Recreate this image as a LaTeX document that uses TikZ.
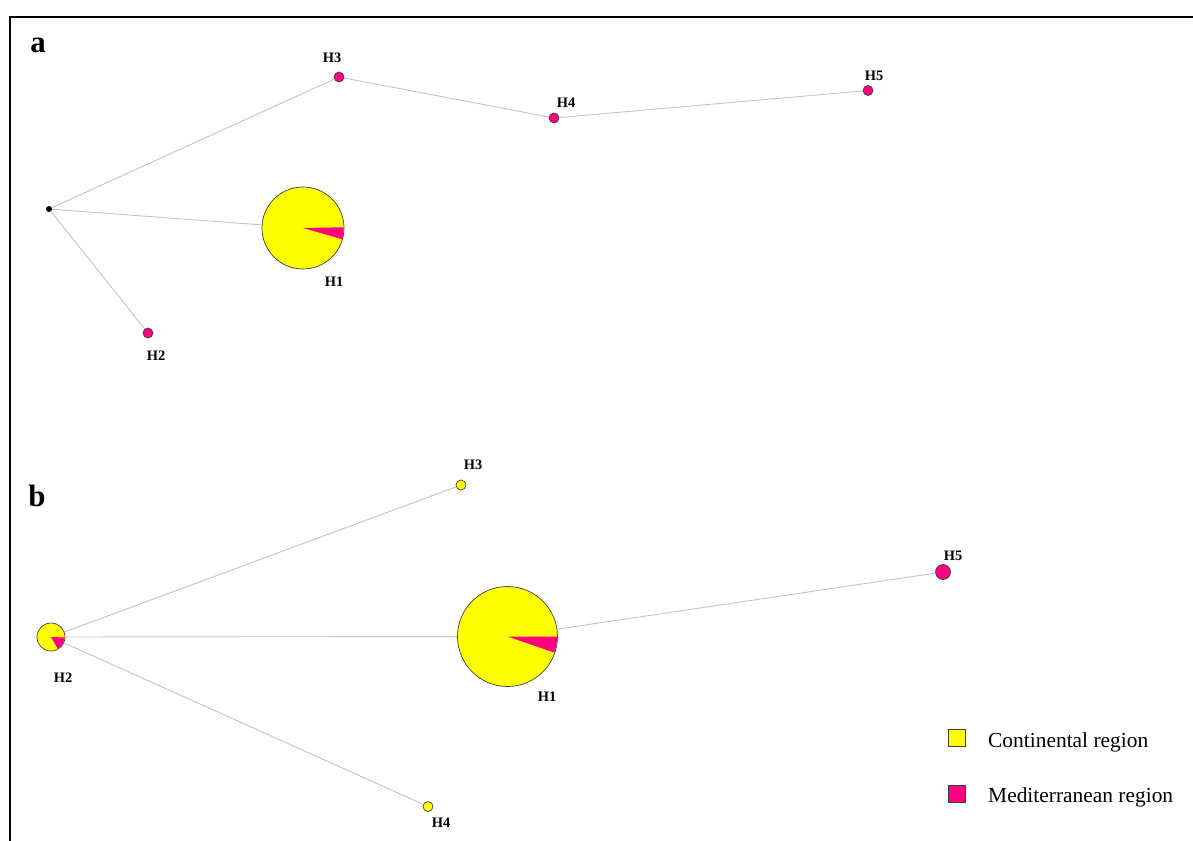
\documentclass[tikz,border=0pt]{standalone}
\usepackage{fontspec}
\setmainfont{Liberation Serif}
\definecolor{conti}{RGB}{255,255,0}
\definecolor{medi}{RGB}{255,0,128}
\definecolor{link}{RGB}{195,195,195}
\begin{document}
\begin{tikzpicture}[x=1bp, y=-1bp,
    hap/.style={circle, draw=black!75, line width=0.7bp, inner sep=0pt, minimum size=#1},
    hapc/.style={hap=#1, fill=conti},
    hapm/.style={hap=#1, fill=medi},
    lbl/.style={font=\fontsize{14.5}{16}\bfseries\selectfont, inner sep=0pt},
    panel/.style={font=\fontsize{31}{33}\bfseries\selectfont, inner sep=0pt, anchor=base},
    key/.style={draw=black!75, line width=0.7bp, inner sep=0pt, minimum size=17bp},
    keytxt/.style={font=\fontsize{21.5}{24}\selectfont, inner sep=0pt, anchor=base west},
    edge/.style={draw=link, line width=0.9bp}]
  \useasboundingbox (0, 0) rectangle (1193, 841);
  \draw[line width=2.5bp] (1193, 17) -- (10, 17) -- (10, 841);
  % panel a
  \node[panel] (pa) at (38, 52) {a};
  \node[circle, fill=black, inner sep=0pt, minimum size=6bp] (mv) at (49, 209) {};
  \node[hapc=82bp] (a1) at (303, 228) {};
  \fill[medi] (a1.center) -- ++(-1:40.6) arc[start angle=-1, end angle=16, radius=40.6] -- cycle;
  \node[hapm=10bp] (a2) at (148, 333) {};
  \node[hapm=10bp] (a3) at (339, 77) {};
  \node[hapm=10bp] (a4) at (554, 118) {};
  \node[hapm=10bp] (a5) at (868, 90.5) {};
  \draw (334, 282) node[lbl] {H1}
        (156, 356) node[lbl] {H2}
        (332, 58) node[lbl] {H3}
        (566, 103) node[lbl] {H4}
        (874, 76) node[lbl] {H5};
  \draw[edge] (mv) -- (a3) -- (a4) -- (a5)
              (mv) -- (a1)
              (mv) -- (a2);
  % panel b
  \node[panel] (pb) at (37, 506) {b};
  \node[hapc=100bp] (b1) at (507.5, 636.5) {};
  \fill[medi] (b1.center) -- ++(0:49.6) arc[start angle=0, end angle=19, radius=49.6] -- cycle;
  \node[hapc=28bp] (b2) at (51, 637) {};
  \fill[medi] (b2.center) -- ++(2:13.6) arc[start angle=2, end angle=60, radius=13.6] -- cycle;
  \node[hapc=10bp] (b3) at (461, 485) {};
  \node[hapc=10bp] (b4) at (428, 806.5) {};
  \node[hapm=15bp] (b5) at (943, 572) {};
  \draw (547, 697) node[lbl] {H1}
        (63, 678) node[lbl] {H2}
        (473, 465) node[lbl] {H3}
        (441, 823) node[lbl] {H4}
        (953, 556) node[lbl] {H5};
  \draw[edge] (b2) -- (b3)
              (b2) -- (b1)
              (b2) -- (b4)
              (b1) -- (b5);
  % legend
  \node[key, fill=conti] (kc) at (956.5, 738) {};
  \node[key, fill=medi] (km) at (956.5, 794) {};
  \node[keytxt] (tc) at (988, 747) {Continental region};
  \node[keytxt] (tm) at (988, 802) {Mediterranean region};
\end{tikzpicture}
\end{document}
